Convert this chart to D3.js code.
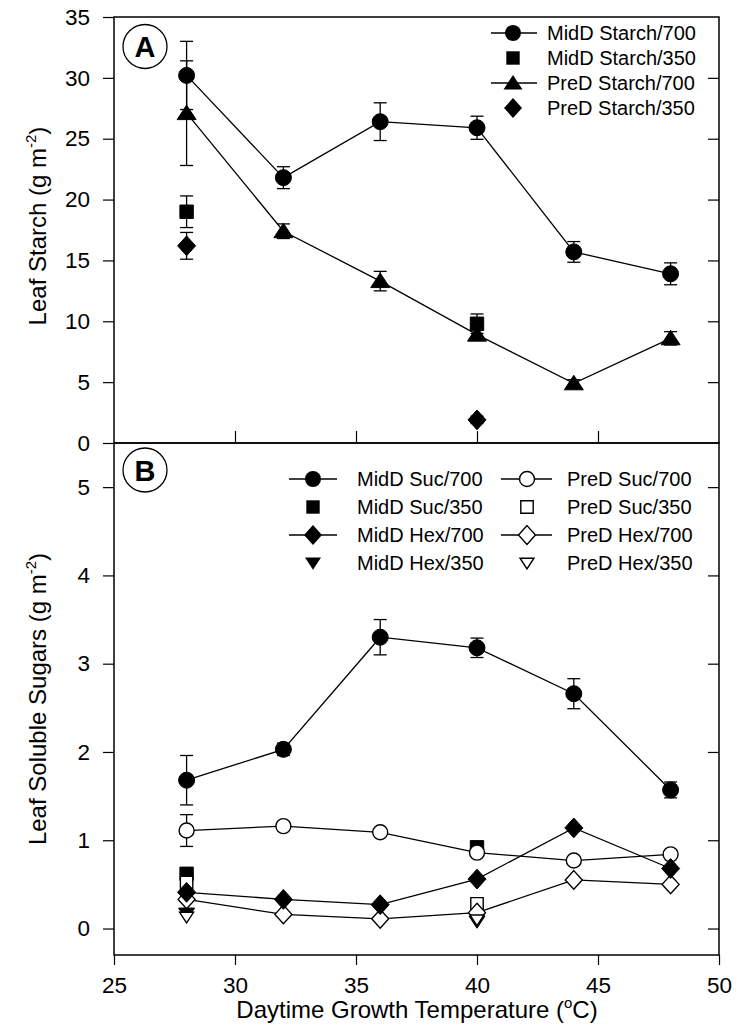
<!DOCTYPE html>
<html><head><meta charset="utf-8">
<script src="https://cdn.jsdelivr.net/npm/d3@7"></script>
<style>body{margin:0;background:#fff;} svg{display:block;font-family:"Liberation Sans",Arial,sans-serif;}</style>
</head><body>
<svg id="c" width="742" height="1026"></svg>
<script>
// ---------- data ----------
const temps = [28, 32, 36, 40, 44, 48];
const temps2 = [28, 40];
// Panel A: leaf starch (g m-2)
const midStarch700 = [30.2, 21.8, 26.4, 25.9, 15.7, 13.9];
const midStarch700Err = [2.8, 0.9, 1.55, 0.95, 0.85, 0.9];
const preStarch700 = [27.1, 17.4, 13.3, 8.9, 4.9, 8.6];
const preStarch700Err = [4.3, 0.6, 0.8, 0.4, 0.3, 0.55];
const midStarch350 = [19.0, 9.8];
const midStarch350Err = [1.3, 0.8];
const preStarch350 = [16.2, 1.9];
const preStarch350Err = [1.1, 0.3];
// Panel B: leaf soluble sugars (g m-2)
const midSuc700 = [1.68, 2.03, 3.3, 3.18, 2.66, 1.57];
const midSuc700Err = [0.28, 0.07, 0.2, 0.11, 0.17, 0.09];
const preSuc700 = [1.11, 1.16, 1.09, 0.86, 0.77, 0.84];
const preSuc700Err = [0.18, 0.03, 0.03, 0.03, 0.03, 0.03];
const midSuc350 = [0.62, 0.92];
const preSuc350 = [0.52, 0.28];
const midHex700 = [0.41, 0.33, 0.27, 0.56, 1.14, 0.68];
const preHex700 = [0.33, 0.16, 0.11, 0.18, 0.55, 0.50];
const midHex350 = [0.17, 0.08];
const preHex350 = [0.13, 0.10];
// ticks
const xTicks = [25, 30, 35, 40, 45, 50];
const yTicksA = [0, 5, 10, 15, 20, 25, 30, 35];
const yTicksB = [0, 1, 2, 3, 4, 5];
const legendA = ["MidD Starch/700", "MidD Starch/350", "PreD Starch/700", "PreD Starch/350"];
const legendBLeft = ["MidD Suc/700", "MidD Suc/350", "MidD Hex/700", "MidD Hex/350"];
const legendBRight = ["PreD Suc/700", "PreD Suc/350", "PreD Hex/700", "PreD Hex/350"];

// ---------- layout ----------
const L = 114, R = 719, TA = 17, BA = 443, TB = 443, BB = 955;
const svg = d3.select("#c");
const x = d3.scaleLinear([25, 50], [L, R]);
const yA = d3.scaleLinear([0, 35], [BA, TA]);
const yB = d3.scaleLinear([-0.3, 5.5], [BB, TB]);

// symbol paths
function sym(type, s) {
  const p = d3.path();
  if (type === "circle") { p.arc(0, 0, s, 0, 2 * Math.PI); }
  else if (type === "square") { p.rect(-s, -s, 2 * s, 2 * s); }
  else if (type === "triUp") { const h = s * 0.85; p.moveTo(0, -h); p.lineTo(s, h * 0.8); p.lineTo(-s, h * 0.8); p.closePath(); }
  else if (type === "triDown") { const h = s * 0.85; p.moveTo(0, h); p.lineTo(s, -h * 0.8); p.lineTo(-s, -h * 0.8); p.closePath(); }
  else if (type === "diamond") { p.moveTo(0, -s * 1.1); p.lineTo(s, 0); p.lineTo(0, s * 1.1); p.lineTo(-s, 0); p.closePath(); }
  return p.toString();
}
const sizes = { circle: 8, square: 6.7, triUp: 9.5, triDown: 8, diamond: 9 };
const sizesOpen = { circle: 7.5, square: 6.2, triUp: 9, triDown: 7, diamond: 8.5 };

function series(g, xs, ys, yScale, opts) {
  const pts = xs.map((t, i) => ({ x: x(t), y: yScale(ys[i]), v: ys[i], e: opts.err ? opts.err[i] : 0 }));
  if (opts.line) {
    g.append("path").attr("d", d3.line().x(d => d.x).y(d => d.y)(pts))
      .attr("fill", "none").attr("stroke", "#000").attr("stroke-width", 1.3);
  }
  if (opts.err) {
    pts.forEach(d => {
      const y1 = yScale(d.v + d.e), y2 = yScale(d.v - d.e);
      g.append("line").attr("x1", d.x).attr("x2", d.x).attr("y1", y1).attr("y2", y2).attr("stroke", "#000").attr("stroke-width", 1.3);
      [y1, y2].forEach(yy => g.append("line").attr("x1", d.x - 6.5).attr("x2", d.x + 6.5).attr("y1", yy).attr("y2", yy).attr("stroke", "#000").attr("stroke-width", 1.3));
    });
  }
  const s = opts.open ? sizesOpen[opts.shape] : sizes[opts.shape];
  pts.forEach(d => {
    g.append("path").attr("d", sym(opts.shape, s)).attr("transform", `translate(${d.x},${d.y})`)
      .attr("fill", opts.open ? "#fff" : "#000").attr("stroke", "#000").attr("stroke-width", opts.open ? 1.4 : 1);
  });
}

// ---------- frames & axes ----------
const fr = svg.append("g").attr("fill", "none").attr("stroke", "#000").attr("stroke-width", 1.5);
fr.append("rect").attr("x", L).attr("y", TA).attr("width", R - L).attr("height", BA - TA);
fr.append("rect").attr("x", L).attr("y", TB).attr("width", R - L).attr("height", BB - TB);

function styleAxis(g) {
  g.select(".domain").remove();
  g.selectAll(".tick line").attr("stroke", "#000").attr("stroke-width", 1.2);
  g.selectAll(".tick text").attr("font-size", 22.5).attr("fill", "#000").attr("font-family", '"Liberation Sans",Arial,sans-serif');
}
svg.append("g").attr("transform", `translate(${L},0)`).call(d3.axisLeft(yA).tickValues(yTicksA).tickSize(11).tickPadding(13).tickFormat(d3.format("d"))).call(styleAxis);
svg.append("g").attr("transform", `translate(${R},0)`).call(d3.axisLeft(yA).tickValues(yTicksA.slice(1, -1)).tickSize(11).tickFormat("")).call(styleAxis);
svg.append("g").attr("transform", `translate(0,${BA})`).call(d3.axisTop(x).tickValues(xTicks.slice(1, -1)).tickSize(12).tickFormat("")).call(styleAxis);
svg.append("g").attr("transform", `translate(${L},0)`).call(d3.axisLeft(yB).tickValues(yTicksB).tickSize(11).tickPadding(13).tickFormat(d3.format("d"))).call(styleAxis);
svg.append("g").attr("transform", `translate(${R},0)`).call(d3.axisLeft(yB).tickValues(yTicksB).tickSize(11).tickFormat("")).call(styleAxis);
svg.append("g").attr("transform", `translate(0,${BB})`).call(d3.axisBottom(x).tickValues(xTicks).tickSize(10).tickPadding(12).tickFormat(d3.format("d"))).call(styleAxis);

// ---------- panel A data ----------
const gA = svg.append("g");
series(gA, temps, midStarch700, yA, { shape: "circle", line: true, err: midStarch700Err });
series(gA, temps, preStarch700, yA, { shape: "triUp", line: true, err: preStarch700Err });
series(gA, temps2, midStarch350, yA, { shape: "square", err: midStarch350Err });
series(gA, temps2, preStarch350, yA, { shape: "diamond", err: preStarch350Err });

// ---------- panel B data ----------
const gB = svg.append("g");
series(gB, temps, midSuc700, yB, { shape: "circle", line: true, err: midSuc700Err });
series(gB, temps2, midSuc350, yB, { shape: "square" });
series(gB, temps2, preSuc350, yB, { shape: "square", open: true });
series(gB, temps, preSuc700, yB, { shape: "circle", open: true, line: true, err: preSuc700Err });
series(gB, temps, preHex700, yB, { shape: "diamond", open: true, line: true });
series(gB, temps, midHex700, yB, { shape: "diamond", line: true });
series(gB, temps2, midHex350, yB, { shape: "triDown" });
series(gB, temps2, preHex350, yB, { shape: "triDown", open: true });

// ---------- panel labels ----------
[["A", 145, 46.5], ["B", 145, 470]].forEach(([t, cx, cy]) => {
  svg.append("circle").attr("cx", cx).attr("cy", cy).attr("r", 22).attr("fill", "#fff").attr("stroke", "#000").attr("stroke-width", 1.3);
  svg.append("text").attr("x", cx).attr("y", cy + 10.5).attr("text-anchor", "middle").attr("font-size", 29).attr("font-weight", "bold").text(t);
});

// ---------- legends ----------
const shapesA = ["circle", "square", "triUp", "diamond"];
const linesA = [true, false, true, false];
legendA.forEach((t, i) => {
  const yy = 33 + i * 25, mx = 513;
  const g = svg.append("g");
  if (linesA[i]) g.append("line").attr("x1", 491).attr("x2", 537).attr("y1", yy).attr("y2", yy).attr("stroke", "#000").attr("stroke-width", 1.3);
  g.append("path").attr("d", sym(shapesA[i], sizes[shapesA[i]])).attr("transform", `translate(${mx},${yy})`).attr("fill", "#000");
  g.append("text").attr("x", 547).attr("y", yy + 7).attr("font-size", 20).text(t);
});
const shapesB = ["circle", "square", "diamond", "triDown"];
const linesB = [true, false, true, false];
legendBLeft.forEach((t, i) => {
  const yy = 479 + i * 28;
  const g = svg.append("g");
  if (linesB[i]) g.append("line").attr("x1", 289).attr("x2", 337).attr("y1", yy).attr("y2", yy).attr("stroke", "#000").attr("stroke-width", 1.3);
  g.append("path").attr("d", sym(shapesB[i], sizes[shapesB[i]])).attr("transform", `translate(313,${yy})`).attr("fill", "#000");
  g.append("text").attr("x", 357).attr("y", yy + 7).attr("font-size", 20).text(t);
});
legendBRight.forEach((t, i) => {
  const yy = 479 + i * 28;
  const g = svg.append("g");
  if (linesB[i]) g.append("line").attr("x1", 501).attr("x2", 552).attr("y1", yy).attr("y2", yy).attr("stroke", "#000").attr("stroke-width", 1.3);
  g.append("path").attr("d", sym(shapesB[i], sizesOpen[shapesB[i]])).attr("transform", `translate(527,${yy})`).attr("fill", "#fff").attr("stroke", "#000").attr("stroke-width", 1.4);
  g.append("text").attr("x", 567).attr("y", yy + 7).attr("font-size", 20).text(t);
});

// ---------- axis titles ----------
function yTitle(cx, cy, main) {
  const t = svg.append("text").attr("transform", `translate(${cx},${cy}) rotate(-90)`).attr("text-anchor", "middle").attr("font-size", 24);
  t.append("tspan").text(main + " (g m");
  t.append("tspan").attr("font-size", 15).attr("dy", -10).text("-2");
  t.append("tspan").attr("dy", 10).text(")");
}
yTitle(46, 226, "Leaf Starch");
yTitle(46, 699, "Leaf Soluble Sugars");
const xt = svg.append("text").attr("x", 417).attr("y", 1018).attr("text-anchor", "middle").attr("font-size", 24);
xt.append("tspan").text("Daytime Growth Temperature (");
xt.append("tspan").attr("font-size", 15).attr("dy", -10).text("o");
xt.append("tspan").attr("dy", 10).text("C)");
</script>
</body></html>
